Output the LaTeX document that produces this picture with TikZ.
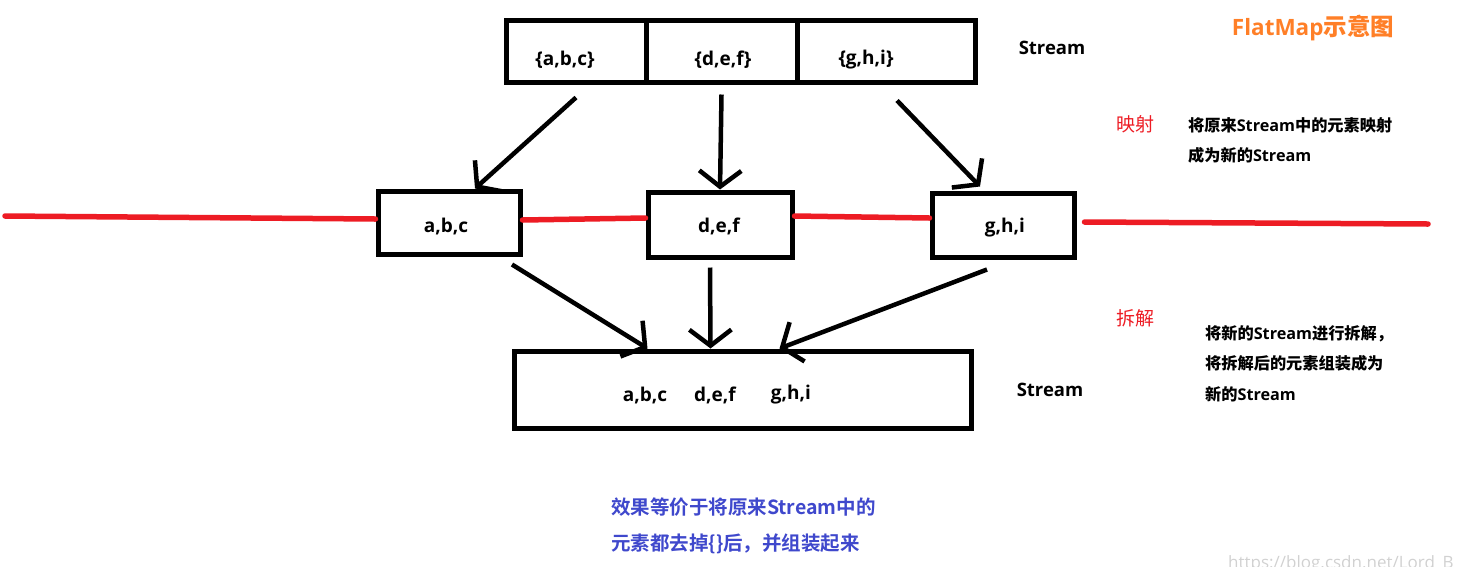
\documentclass[tikz,border=0pt]{standalone}
\usepackage{fontspec}
\setmainfont{Open Sans}
\newfontfamily\cjkb{Noto Sans CJK SC Bold}
\newfontfamily\cjkr{Noto Sans CJK SC}
\usetikzlibrary{arrows.meta}
\definecolor{myred}{HTML}{ED1C24}
\definecolor{myorange}{HTML}{FF7F27}
\definecolor{myblue}{HTML}{3F48CC}
\tikzset{
  cell/.style={draw=black, line width=5pt, minimum height=62pt, inner sep=0pt},
  midbox/.style={draw=black, line width=5pt, inner sep=0pt},
  boxtxt/.style={font=\bfseries\fontsize{19}{21}\selectfont, inner sep=0pt},
  lbl/.style={font=\bfseries\fontsize{18.5}{20}\selectfont, inner sep=0pt},
  redlbl/.style={font=\cjkr\fontsize{19}{22}\selectfont, text=myred, inner sep=0pt},
  desc/.style={font=\bfseries\fontsize{16.2}{30.5}\selectfont, align=left, inner sep=0pt, anchor=north west},
  arr/.style={line width=4.5pt, -{Straight Barb[length=16pt,width=42pt]}},
  redline/.style={draw=myred, line width=5.5pt, line cap=round}
}
\begin{document}
\begin{tikzpicture}[x=1pt,y=-1pt]
\useasboundingbox (0,0) rectangle (1471,566);
% top stream
\node[cell, minimum width=140pt] (c1) at (576,51) {};
\node[cell, minimum width=151pt] (c2) at (721.5,51) {};
\node[cell, minimum width=178pt] (c3) at (886,51) {};
\node[boxtxt] (t1) at (565,60) {\{a,b,c\}};
\node[boxtxt] (t2) at (723,60) {\{d,e,f\}};
\node[boxtxt] (t3) at (866,60) {\{g,h,i\}};
\node[lbl] (s1) at (1052,48) {Stream};
% title
\node[font=\bfseries\fontsize{22.5}{24}\selectfont, text=myorange, inner sep=0pt] (title) at (1313,28) {FlatMap{\cjkb\fontsize{23.5}{24}\selectfont 示意图}};
% mapping labels
\node[redlbl] (map) at (1135,124) {映射};
\node[desc] (mapd) at (1188,117) {{\cjkb 将原来}Stream{\cjkb 中的元素映射}\\{\cjkb 成为新的}Stream};
% middle boxes
\node[midbox, minimum width=142pt, minimum height=63pt] (m1) at (449,222.5) {};
\node[midbox, minimum width=144pt, minimum height=65pt] (m2) at (720,224.5) {};
\node[midbox, minimum width=142pt, minimum height=64pt] (m3) at (1003,225) {};
\node[boxtxt] (mt1) at (446,226) {a,b,c};
\node[boxtxt] (mt2) at (719,226) {d,e,f};
\node[boxtxt] (mt3) at (1005,228) {g,h,i};
% red line
\coordinate (rl) at (5,216);
\coordinate (rr) at (1428,224);
\draw[redline] (rl) -- ([yshift=3.5pt]m1.west);
\draw[redline] ([yshift=2.5pt]m1.east) -- ([yshift=6.5pt]m2.west);
\draw[redline] ([yshift=8.5pt]m2.east) -- ([yshift=7pt]m3.west);
\draw[redline] ([xshift=8pt,yshift=3pt]m3.east) -- (rr);
% bottom box
\node[draw=black, line width=5pt, minimum width=457pt, minimum height=77pt, inner sep=0pt] (bot) at (742.5,389.5) {};
\node[boxtxt] (bt1) at (645,395) {a,b,c};
\node[boxtxt] (bt2) at (715,395) {d,e,f};
\node[boxtxt] (bt3) at (791,395) {g,h,i};
\node[lbl] (s2) at (1050,390) {Stream};
% split labels
\node[redlbl] (split) at (1135,318) {拆解};
\node[desc] (splitd) at (1205,325) {{\cjkb 将新的}Stream{\cjkb 进行拆解，}\\{\cjkb 将拆解后的元素组装成为}\\{\cjkb 新的}Stream};
% arrows top -> middle
\draw[arr] ([yshift=-13pt]c1.south) -- ([xshift=26pt]m1.north);
\draw[arr] ([yshift=-10pt]c2.south) -- (m2.north);
\draw[arr] ([xshift=11pt,yshift=-16pt]c3.south) -- ([xshift=-23pt,yshift=4pt]m3.north);
% arrows middle -> bottom
\draw[arr] ([xshift=63pt,yshift=-8pt]m1.south) -- ([xshift=-95pt]bot.north);
\draw[arr] ([xshift=-10pt,yshift=-8pt]m2.south) -- ([xshift=-32pt]bot.north);
\draw[arr] ([xshift=-16pt,yshift=-10pt]m3.south) -- ([xshift=37pt]bot.north);
% summary
\node[font=\cjkb\fontsize{19.5}{36}\selectfont, text=myblue, align=left, inner sep=0pt, anchor=north west] (sum) at (611,498) {效果等价于将原来Stream中的\\元素都去掉\{\}后，并组装起来};
% watermark
\node[font=\fontsize{17}{20}\selectfont, text=black!18, inner sep=0pt, anchor=base west] (wm) at (1228,568) {https://blog.csdn.net/Lord\_B};
\end{tikzpicture}
\end{document}
